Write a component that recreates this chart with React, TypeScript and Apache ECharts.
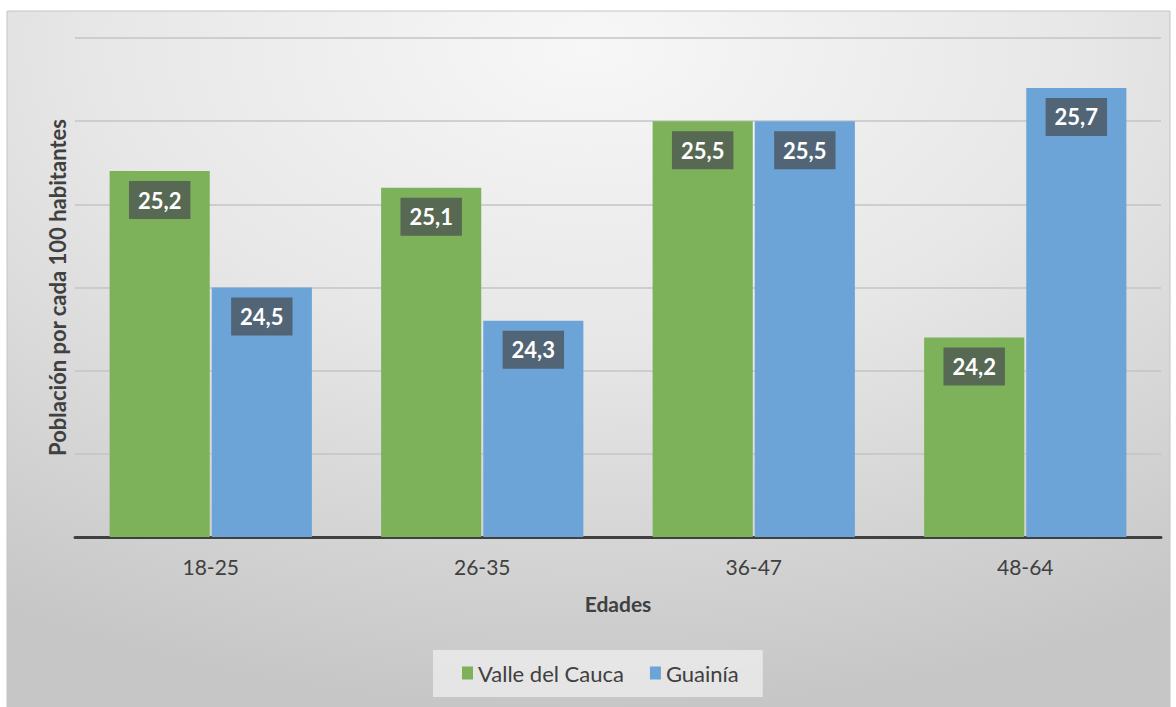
import React, { useEffect, useRef } from "react";
import * as echarts from "echarts";

// Age groups and population per 100 inhabitants
const categories = ["18-25", "26-35", "36-47", "48-64"];
const valleDelCauca = [25.2, 25.1, 25.5, 24.2];
const guainia = [24.5, 24.3, 25.5, 25.7];
const seriesNames = ["Valle del Cauca", "Guainía"];

const FONT = "Lato, 'Open Sans', sans-serif";
const TEXT = "#404040";

const fmt = (v: number) => v.toFixed(1).replace(".", ",");

export default function App() {
  const ref = useRef<HTMLDivElement>(null);

  useEffect(() => {
    document.body.style.margin = "0";
    if (!ref.current) return;
    const chart = echarts.init(ref.current, undefined, { renderer: "svg" });

    const labelStyle = {
      show: true,
      position: "insideTop" as const,
      distance: 10,
      formatter: (p: any) => fmt(p.value),
      color: "#ffffff",
      fontFamily: FONT,
      fontWeight: "bold" as const,
      fontSize: 22,
      lineHeight: 22,
      backgroundColor: "rgba(72,76,80,0.72)",
      padding: [8, 9, 8, 9],
    };

    chart.setOption({
      animation: false,
      textStyle: { fontFamily: FONT },
      graphic: [
        {
          type: "rect",
          z: -10,
          silent: true,
          shape: { x: 7, y: 11, width: 1163, height: 700 },
          style: {
            fill: new echarts.graphic.RadialGradient(0.5, 0.05, 0.95, [
              { offset: 0, color: "#f7f7f7" },
              { offset: 0.45, color: "#e7e7e7" },
              { offset: 1, color: "#c6c6c6" },
            ]),
            stroke: "#c4c4c4",
            lineWidth: 1,
          },
        },
      ],
      grid: { left: 75, right: 15, top: 38, bottom: 170 },
      legend: {
        data: seriesNames,
        left: 433,
        top: 650,
        padding: [12, 24, 13, 29],
        itemGap: 26,
        itemWidth: 11,
        itemHeight: 13,
        backgroundColor: "rgba(236,236,236,0.8)",
        textStyle: { color: TEXT, fontSize: 22, fontFamily: FONT },
        icon: "rect",
      },
      xAxis: {
        type: "category",
        data: categories,
        name: "Edades",
        nameLocation: "middle",
        nameGap: 56,
        nameTextStyle: { color: TEXT, fontSize: 21, fontWeight: "bold", fontFamily: FONT },
        axisLine: { show: true, lineStyle: { color: "#404040", width: 3 } },
        axisTick: { show: false },
        axisLabel: { color: TEXT, fontSize: 21, margin: 19, fontFamily: FONT },
      },
      yAxis: {
        type: "value",
        min: 23,
        max: 26,
        interval: 0.5,
        name: "Población por cada 100 habitantes",
        nameLocation: "middle",
        nameRotate: 90,
        nameGap: 7,
        nameTextStyle: { color: TEXT, fontSize: 22, fontWeight: "bold", fontFamily: FONT },
        axisLine: { show: false },
        axisTick: { show: false },
        axisLabel: { show: false },
        splitLine: { lineStyle: { color: "#c4c4c4", width: 1.5 } },
      },
      series: [
        {
          name: seriesNames[0],
          type: "bar",
          data: valleDelCauca,
          barGap: "2%",
          barCategoryGap: "25.5%",
          itemStyle: { color: "#7db25b" },
          label: labelStyle,
        },
        {
          name: seriesNames[1],
          type: "bar",
          data: guainia,
          itemStyle: { color: "#6ca4d8" },
          label: labelStyle,
        },
      ],
    });

    return () => chart.dispose();
  }, []);

  return <div ref={ref} style={{ width: 1176, height: 707 }} />;
}
